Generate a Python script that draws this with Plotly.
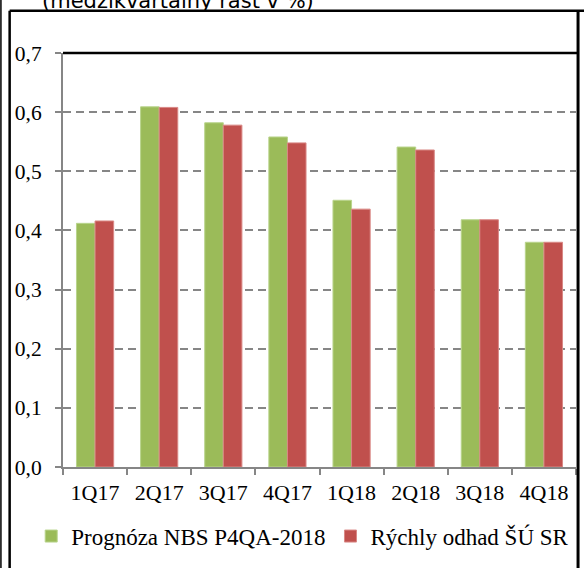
import plotly.graph_objects as go

# quarters and series (quarter-on-quarter growth, %)
quarters = ["1Q17", "2Q17", "3Q17", "4Q17", "1Q18", "2Q18", "3Q18", "4Q18"]
nbs_forecast = [0.412, 0.609, 0.582, 0.558, 0.451, 0.541, 0.418, 0.380]
flash_estimate = [0.416, 0.608, 0.578, 0.548, 0.436, 0.536, 0.418, 0.380]
y_ticks = [0.0, 0.1, 0.2, 0.3, 0.4, 0.5, 0.6, 0.7]

serif = "Liberation Serif"
gray = "#868686"

fig = go.Figure()
fig.add_trace(go.Bar(x=quarters, y=nbs_forecast, name="Prognóza NBS P4QA-2018",
                     marker=dict(color="#9BBB59", line=dict(color="#B9D48C", width=1))))
fig.add_trace(go.Bar(x=quarters, y=flash_estimate, name="Rýchly odhad ŠÚ SR",
                     marker=dict(color="#C0504D", line=dict(color="#D98885", width=1))))

fig.update_layout(
    width=584, height=568,
    margin=dict(l=63, r=8, t=53, b=101),
    paper_bgcolor="white", plot_bgcolor="white",
    separators=", ",
    barmode="group", bargap=0.42, bargroupgap=0,
    font=dict(family=serif, size=21.5, color="black"),
    legend=dict(orientation="h", x=-0.062, xanchor="left", y=-0.115, yanchor="top",
                font=dict(family=serif, size=23), itemwidth=30, traceorder="normal"),
    showlegend=True,
)

fig.update_yaxes(range=[0, 0.7], tickvals=y_ticks, tickformat=".1f", automargin=False,
                 showgrid=True, gridcolor=gray, gridwidth=2, griddash="8px,5px",
                 showline=True, linecolor=gray, linewidth=2,
                 ticks="outside", tickcolor=gray, ticklen=6, tickwidth=2, ticklabelstandoff=9,
                 zeroline=False, tickfont=dict(family=serif, size=21.5))
fig.update_xaxes(showline=True, linecolor=gray, linewidth=2, automargin=False,
                 ticks="outside", tickson="boundaries", tickcolor=gray, ticklen=6, tickwidth=2,
                 ticklabelstandoff=5, tickfont=dict(family=serif, size=22))

# chart frame lines
frame = [
    dict(x0=-0.121, x1=-0.121, y0=-0.25, y1=1.2, w=1.5),
    dict(x0=-0.104, x1=-0.104, y0=-0.25, y1=1.102, w=2.5),
    dict(x0=-0.104, x1=1.05, y0=1.102, y1=1.102, w=2.5),
    dict(x0=1.004, x1=1.004, y0=-0.25, y1=1.102, w=3),
    dict(x0=0, x1=1.004, y0=1.0, y1=1.0, w=2.5),
]
for f in frame:
    fig.add_shape(type="line", xref="paper", yref="paper",
                  x0=f["x0"], x1=f["x1"], y0=f["y0"], y1=f["y1"],
                  line=dict(color="black", width=f["w"]))

fig.add_annotation(text="(medzikvartálny rast v %)", xref="paper", yref="paper",
                   x=0.225, y=1.125, xanchor="center", yanchor="middle", showarrow=False,
                   font=dict(family="DejaVu Sans", size=21, color="black"))

# page body has a default 8px margin; drop it so the figure sits at the window corner
fig.write_html("out.html", config={"displayModeBar": False},
               post_script="document.body.style.margin='0';")
